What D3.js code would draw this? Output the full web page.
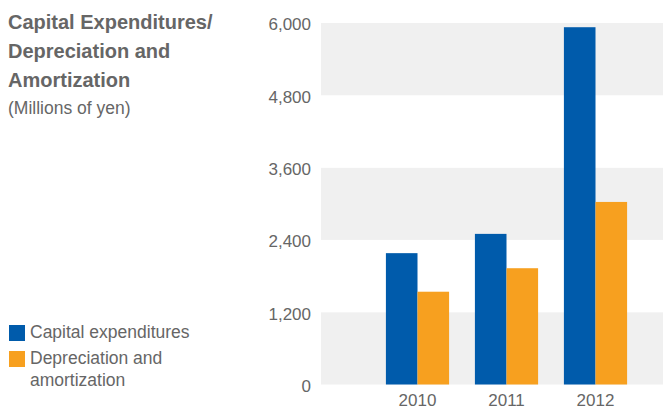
<!DOCTYPE html>
<html>
<head>
<meta charset="utf-8">
<script src="https://cdn.jsdelivr.net/npm/d3@7"></script>
<style>
  html, body { margin: 0; padding: 0; background: #fff; }
  svg { display: block; font-family: "Liberation Sans", Arial, Helvetica, sans-serif; }
</style>
</head>
<body>
<svg id="chart" width="663" height="410"></svg>
<script>
// Fiscal years shown on the category axis
const years = ["2010", "2011", "2012"];
// Millions of yen
const capitalExpenditures = [2180, 2500, 5930];
const depreciationAmortization = [1540, 1930, 3030];
// Value axis ticks
const yTicks = [0, 1200, 2400, 3600, 4800, 6000];
const seriesNames = ["Capital expenditures", "Depreciation and amortization"];
const seriesColors = ["#005bab", "#f7a01f"];

const svg = d3.select("#chart");
const textColor = "#666666";

const plot = { left: 321, right: 663, top: 23, bottom: 384.5 };

const y = d3.scaleLinear().domain([0, 6000]).range([plot.bottom, plot.top]);
const x = d3.scaleBand().domain(years).range([373, 640]).paddingInner(0.29).paddingOuter(0.145);
const xInner = d3.scaleBand().domain(d3.range(seriesNames.length)).range([0, x.bandwidth()]);

// Alternating background bands
const bandPairs = d3.pairs(yTicks);
svg.append("g").selectAll("rect")
  .data(bandPairs)
  .join("rect")
  .attr("x", plot.left)
  .attr("width", plot.right - plot.left)
  .attr("y", d => y(d[1]))
  .attr("height", d => y(d[0]) - y(d[1]))
  .attr("fill", (d, i) => i % 2 === 0 ? "#f0f0f0" : "#ffffff");

// Value axis labels
const yAxis = d3.axisLeft(y).tickValues(yTicks).tickFormat(d3.format(",")).tickSize(0).tickPadding(0);
const yg = svg.append("g").attr("transform", "translate(311,1.5)").call(yAxis);
yg.select(".domain").remove();
yg.selectAll("text").attr("fill", textColor).style("font-size", "17px").style("font-family", "inherit");

// Bars
const rows = years.map((yr, i) => ({ year: yr, values: [capitalExpenditures[i], depreciationAmortization[i]] }));
svg.append("g").selectAll("g")
  .data(rows)
  .join("g")
  .attr("transform", d => `translate(${x(d.year)},0)`)
  .selectAll("rect")
  .data(d => d.values.map((v, k) => ({ v, k })))
  .join("rect")
  .attr("x", d => xInner(d.k))
  .attr("width", xInner.bandwidth())
  .attr("y", d => y(d.v))
  .attr("height", d => y(0) - y(d.v))
  .attr("fill", d => seriesColors[d.k]);

// Category axis labels
const xAxis = d3.axisBottom(x).tickSize(0).tickPadding(0);
const xg = svg.append("g").attr("transform", "translate(0,394)").call(xAxis);
xg.select(".domain").remove();
xg.selectAll("text").attr("fill", textColor).style("font-size", "17px").style("font-family", "inherit");

// Title block
const title = svg.append("g").attr("fill", textColor);
["Capital Expenditures/", "Depreciation and", "Amortization"].forEach((t, i) => {
  title.append("text").attr("x", 8).attr("y", 29 + i * 29)
    .style("font-size", "20px").style("font-weight", "bold").text(t);
});
title.append("text").attr("x", 8).attr("y", 114).style("font-size", "17.5px").text("(Millions of yen)");

// Legend
const legend = svg.append("g");
const legendRows = [
  { lines: ["Capital expenditures"], y: 325 },
  { lines: ["Depreciation and", "amortization"], y: 351 }
];
legendRows.forEach((r, i) => {
  legend.append("rect").attr("x", 9).attr("y", r.y).attr("width", 16).attr("height", 16).attr("fill", seriesColors[i]);
  r.lines.forEach((line, j) => {
    legend.append("text").attr("x", 30).attr("y", r.y + 12.5 + j * 22)
      .attr("fill", textColor).style("font-size", "17.5px").text(line);
  });
});
</script>
</body>
</html>
